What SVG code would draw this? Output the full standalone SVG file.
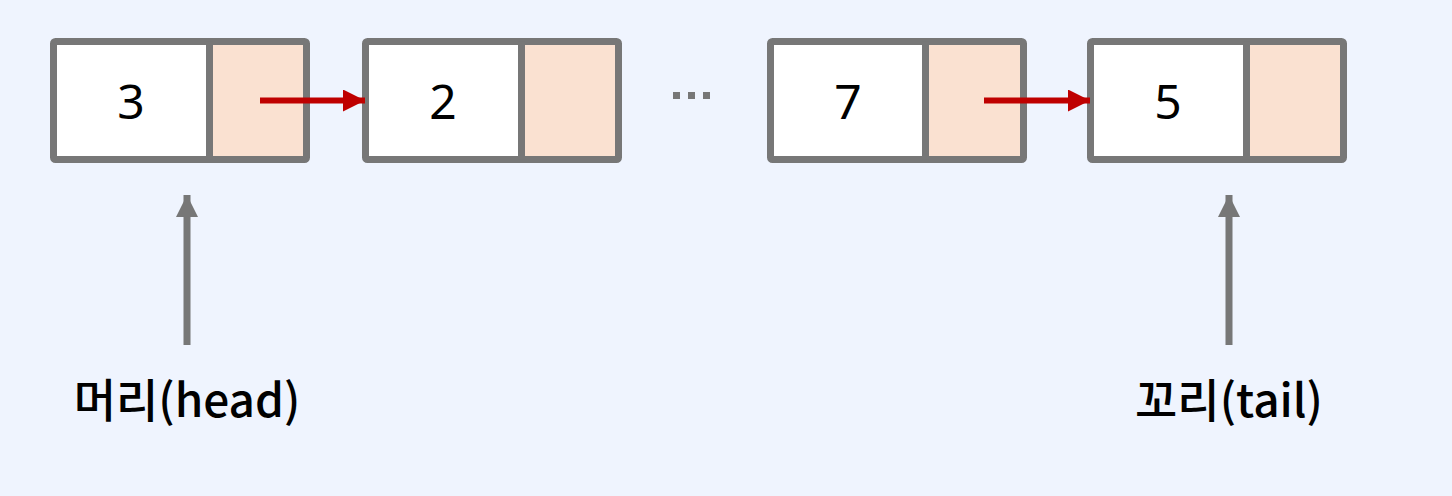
<svg xmlns="http://www.w3.org/2000/svg" width="1452" height="496" viewBox="0 0 1452 496">
<defs>
<style>
.val{fill:#fff}
.ptr{fill:#FAE1D1}
.frame{fill:none;stroke:#777;stroke-width:7;stroke-linejoin:round}
.div{stroke:#777;stroke-width:7}
.num{font-family:"Noto Sans","Liberation Sans",sans-serif;font-size:48px;font-weight:400;fill:#000;text-anchor:middle;dominant-baseline:central}
.lbl{font-family:"Noto Sans CJK KR","Noto Sans",sans-serif;font-size:46px;font-weight:500;fill:#000;text-anchor:middle}
.red{stroke:#BF0000;stroke-width:6;fill:none}
.gray{stroke:#777;stroke-width:7;fill:none}
</style>
<marker id="ar" viewBox="0 0 22 22" refX="22" refY="11" markerWidth="22" markerHeight="22" markerUnits="userSpaceOnUse" orient="auto"><path d="M0,0 L22,11 L0,22 Z" fill="#BF0000"/></marker>
<marker id="ag" viewBox="0 0 22 22" refX="22" refY="11" markerWidth="22" markerHeight="22" markerUnits="userSpaceOnUse" orient="auto"><path d="M0,0 L22,11 L0,22 Z" fill="#777"/></marker>
</defs>
<rect width="1452" height="496" fill="#EFF4FE"/>
<g id="node1">
<rect class="val" x="53.5" y="41.5" width="156" height="118"/>
<rect class="ptr" x="209.5" y="41.5" width="97" height="118"/>
<rect class="frame" x="53.5" y="41.5" width="253" height="118" rx="2"/>
<line class="div" x1="209.5" y1="41.5" x2="209.5" y2="159.5"/>
<text class="num" x="131" y="100">3</text>
</g>
<g id="node2">
<rect class="val" x="365.5" y="41.5" width="156" height="118"/>
<rect class="ptr" x="521.5" y="41.5" width="97" height="118"/>
<rect class="frame" x="365.5" y="41.5" width="253" height="118" rx="2"/>
<line class="div" x1="521.5" y1="41.5" x2="521.5" y2="159.5"/>
<text class="num" x="443" y="100">2</text>
</g>
<g id="ellipsis">
<rect x="673" y="92" width="7" height="7" fill="#777"/>
<rect x="688" y="92" width="7" height="7" fill="#777"/>
<rect x="703" y="92" width="7" height="7" fill="#777"/>
</g>
<g id="node3">
<rect class="val" x="770.5" y="41.5" width="155" height="118"/>
<rect class="ptr" x="925.5" y="41.5" width="98" height="118"/>
<rect class="frame" x="770.5" y="41.5" width="253" height="118" rx="2"/>
<line class="div" x1="925.5" y1="41.5" x2="925.5" y2="159.5"/>
<text class="num" x="848" y="100">7</text>
</g>
<g id="node4">
<rect class="val" x="1090.5" y="41.5" width="156" height="118"/>
<rect class="ptr" x="1246.5" y="41.5" width="97" height="118"/>
<rect class="frame" x="1090.5" y="41.5" width="253" height="118" rx="2"/>
<line class="div" x1="1246.5" y1="41.5" x2="1246.5" y2="159.5"/>
<text class="num" x="1168" y="100">5</text>
</g>
<g id="head">
<text class="lbl" x="187" y="417">머리(head)</text>
</g>
<g id="tail">
<text class="lbl" x="1229" y="417">꼬리(tail)</text>
</g>
<g id="connectors">
<line class="red" x1="260" y1="100.5" x2="365" y2="100.5" marker-end="url(#ar)"/>
<line class="red" x1="984" y1="100.5" x2="1090" y2="100.5" marker-end="url(#ar)"/>
<line class="gray" x1="187" y1="345" x2="187" y2="195" marker-end="url(#ag)"/>
<line class="gray" x1="1229" y1="345" x2="1229" y2="195" marker-end="url(#ag)"/>
</g>
</svg>
